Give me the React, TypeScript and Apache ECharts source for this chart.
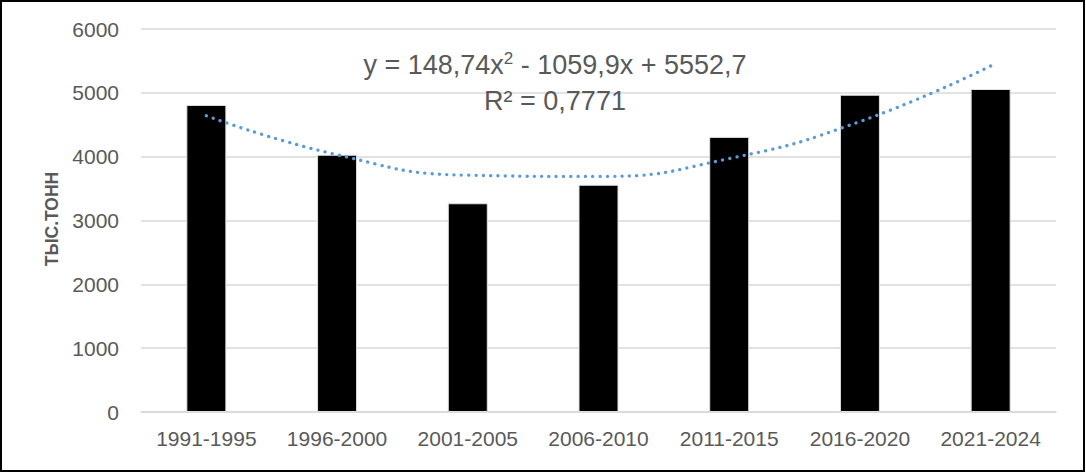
import React, { useEffect, useRef } from "react";
import * as echarts from "echarts";

const categories = ["1991-1995", "1996-2000", "2001-2005", "2006-2010", "2011-2015", "2016-2020", "2021-2024"];
const volumes = [4810, 4030, 3270, 3560, 4310, 4970, 5060];
const trendValues = [4640, 4030, 3710, 3690, 3970, 4550, 5420];
const yTicks = { min: 0, max: 6000, interval: 1000 };
const yAxisTitle = "ТЫС.ТОНН";
const trendEquation = ["y = 148,74x", "2", " - 1059,9x + 5552,7"];
const trendR2 = "R² = 0,7771";

const FONT = "'Liberation Sans', Arial, sans-serif";
const TEXT = "#595959";

export default function App() {
  const ref = useRef<HTMLDivElement>(null);
  useEffect(() => {
    if (!ref.current) return;
    const chart = echarts.init(ref.current, undefined, { renderer: "svg" });
    chart.setOption({
      animation: false,
      backgroundColor: "#ffffff",
      grid: { left: 141, right: 30, top: 29, bottom: 61, containLabel: false },
      xAxis: {
        type: "category",
        data: categories,
        boundaryGap: true,
        axisLine: { show: true, lineStyle: { color: "#d9d9d9", width: 1.5 } },
        axisTick: { show: false },
        axisLabel: { color: TEXT, fontSize: 21, fontFamily: FONT, margin: 16 },
      },
      yAxis: {
        type: "value",
        min: yTicks.min,
        max: yTicks.max,
        interval: yTicks.interval,
        axisLine: { show: false },
        axisTick: { show: false },
        axisLabel: {
          color: TEXT,
          fontSize: 21,
          fontFamily: FONT,
          margin: 22,
          formatter: (v: number) => String(v),
        },
        splitLine: { show: true, lineStyle: { color: "#d9d9d9", width: 1.5 } },
      },
      series: [
        {
          type: "bar",
          data: volumes,
          barWidth: 40,
          itemStyle: { color: "#000000", borderColor: "#e0e0e0", borderWidth: 1 },
          z: 2,
        },
        {
          type: "line",
          data: trendValues,
          smooth: true,
          symbol: "none",
          lineStyle: { color: "#5B9BD5", width: 3.3, type: [0.1, 7.2], cap: "round" },
          z: 3,
        },
      ],
      graphic: [
        {
          type: "text",
          x: 52,
          y: 219,
          rotation: Math.PI / 2,
          style: {
            text: yAxisTitle,
            fill: TEXT,
            font: `bold 17.5px ${FONT}`,
            align: "center",
            verticalAlign: "middle",
          },
        },
        {
          type: "text",
          x: 555,
          y: 65,
          z: 10,
          style: {
            text: `{a|${trendEquation[0]}}{s|${trendEquation[1]}}{a|${trendEquation[2]}}`,
            align: "center",
            verticalAlign: "middle",
            rich: {
              a: { fill: TEXT, fontSize: 27, fontFamily: FONT, lineHeight: 30 },
              s: { fill: TEXT, fontSize: 17, fontFamily: FONT, lineHeight: 30, verticalAlign: "top" },
            },
          },
        },
        {
          type: "text",
          x: 555,
          y: 101,
          z: 10,
          style: {
            text: trendR2,
            fill: TEXT,
            fontSize: 27,
            fontFamily: FONT,
            align: "center",
            verticalAlign: "middle",
          },
        },
      ],
    });
    return () => chart.dispose();
  }, []);
  return (
    <div style={{ position: "absolute", left: 0, top: 0, width: 1086, height: 473, background: "#fff" }}>
      <div ref={ref} style={{ position: "absolute", left: 0, top: 0, width: 1086, height: 473 }} />
      <div
        style={{
          position: "absolute",
          left: 0,
          top: 0,
          width: 1085,
          height: 472,
          border: "2.5px solid #000",
          boxSizing: "border-box",
          pointerEvents: "none",
        }}
      />
    </div>
  );
}
